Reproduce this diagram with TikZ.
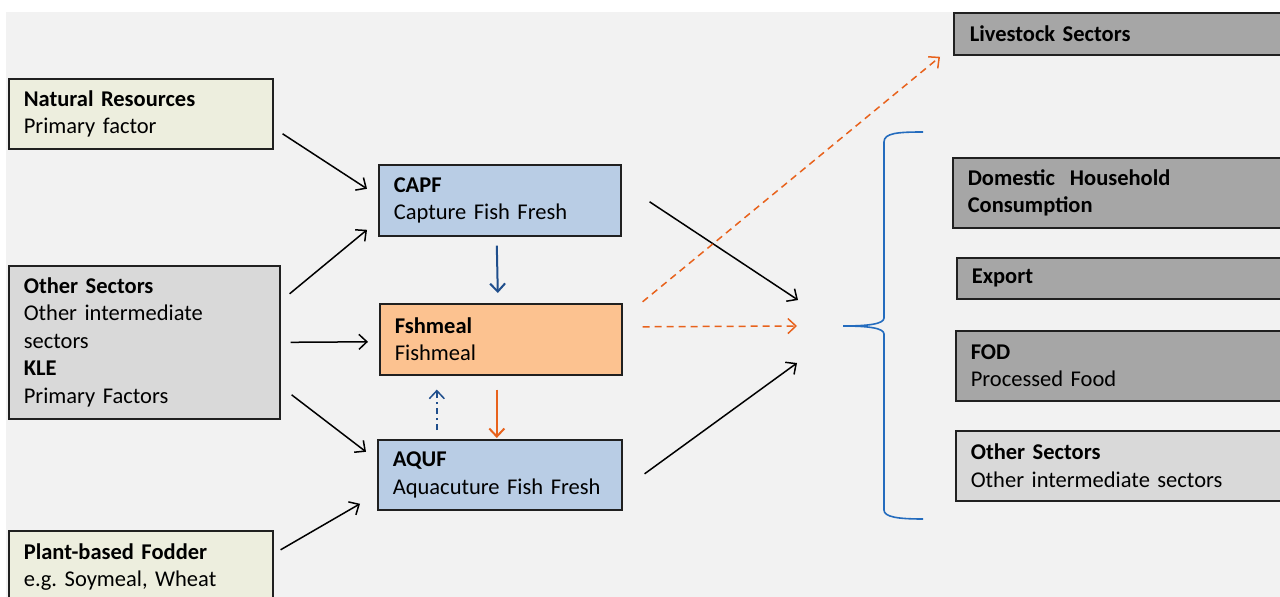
\documentclass[tikz,border=0pt]{standalone}
\usepackage{fontspec}
\setmainfont{Carlito}
\usetikzlibrary{arrows.meta,calc}
\definecolor{bg}{RGB}{242,242,242}
\definecolor{boxline}{RGB}{32,32,32}
\definecolor{beige}{RGB}{237,238,222}
\definecolor{lgray}{RGB}{217,217,217}
\definecolor{dgray}{RGB}{166,166,166}
\definecolor{lblue}{RGB}{185,205,229}
\definecolor{peach}{RGB}{252,194,144}
\definecolor{orng}{RGB}{232,98,28}
\definecolor{dblue}{RGB}{31,78,140}
\definecolor{brace}{RGB}{36,108,190}
\begin{document}
\begin{tikzpicture}[x=1pt,y=-1pt,
  font=\fontsize{22.5}{27.5}\selectfont,
  sbox/.style={draw=boxline, line width=1.6pt, anchor=north west, align=left,
    inner xsep=15pt, inner ysep=0pt},
  arr/.style={line width=1.5pt, -{Straight Barb[length=8pt,width=15pt]}}]
\useasboundingbox (0,0) rectangle (1280,597);
\fill[white] (0,0) rectangle (1280,597);
\fill[bg] (6,12) rectangle (1280,597);

% left inputs
\node[sbox, fill=beige, text width=234pt, minimum height=70pt] (nr) at (8,78)
  {\textbf{Natural Resources}\\Primary factor};
\node[sbox, fill=lgray, text width=241pt, minimum height=153pt] (os) at (8,265)
  {\textbf{Other Sectors}\\Other intermediate\\sectors\\\textbf{KLE}\\Primary Factors};
\node[sbox, fill=beige, text width=234pt, minimum height=72pt] (pf) at (8,530)
  {\textbf{Plant-based Fodder}\\e.g.\ Soymeal, Wheat};

% middle
\node[sbox, fill=lblue, text width=212pt, minimum height=71pt] (capf) at (378,164)
  {\textbf{CAPF}\\Capture Fish Fresh};
\node[sbox, fill=peach, text width=212pt, minimum height=71pt] (fm) at (379,303)
  {\textbf{Fshmeal}\\Fishmeal};
\node[sbox, fill=lblue, text width=214pt, minimum height=70pt] (aquf) at (377,439)
  {\textbf{AQUF}\\Aquacuture Fish Fresh};

% right outputs
\node[sbox, fill=dgray, text width=308pt, minimum height=42pt, inner xsep=16pt] (live) at (953,12)
  {\textbf{Livestock Sectors}};
\node[sbox, fill=dgray, text width=310pt, minimum height=70pt] (dom) at (952,157)
  {\textbf{Domestic\ \ Household}\\\textbf{Consumption}};
\node[sbox, fill=dgray, text width=306pt, minimum height=41pt] (exp) at (956,257)
  {\textbf{Export}};
\node[sbox, fill=dgray, text width=307pt, minimum height=70pt] (fod) at (955,330)
  {\textbf{FOD}\\Processed Food};
\node[sbox, fill=lgray, text width=307pt, minimum height=70pt] (ors) at (955,430)
  {\textbf{Other Sectors}\\Other intermediate sectors};

% hub
\coordinate (hub) at (797,326);

% input arrows
\draw[arr] ([shift={(9,20)}]nr.east) -- ([shift={(-11,-11.5)}]capf.west);
\draw[arr] ([shift={(9,-48.5)}]os.east) -- ([shift={(-11,29.5)}]capf.west);
\draw[arr] ([shift={(10,0)}]os.east) -- ([shift={(-11,2.5)}]fm.west);
\draw[arr] ([shift={(11,52.5)}]os.east) -- ([shift={(-11,-23)}]aquf.west);
\draw[arr] ([shift={(7,-17)}]pf.east) -- ([shift={(-17,29)}]aquf.west);

% vertical arrows
\draw[arr, draw=dblue, line width=2pt] ([shift={(-3,9)}]capf.south) -- ([shift={(-3,-10)}]fm.north);
\draw[arr, draw=orng, line width=2pt] ([shift={(-4,14)}]fm.south) -- ([shift={(-3,-1)}]aquf.north);
\draw[arr, draw=dblue, dash pattern=on 6pt off 4pt on 2pt off 4pt]
  ([shift={(-63,-9)}]aquf.north) -- ([shift={(-64,14)}]fm.south);

% output arrows
\draw[arr] ([shift={(28,1.5)}]capf.east) -- ([shift={(1,-26)}]hub);
\draw[arr, draw=orng, dash pattern=on 7pt off 5pt] ([shift={(20,-12.5)}]fm.east) -- (hub);
\draw[arr, draw=orng, dash pattern=on 7pt off 5pt] ([shift={(20,-37.5)}]fm.east) -- ([shift={(-13,23)}]live.west);
\draw[arr] ([shift={(22,-1)}]aquf.east) -- ([shift={(0,37)}]hub);

% brace
\draw[brace, line width=1.6pt]
  (923,132) .. controls (898,132) and (884,133) .. (884,142) -- (884,318)
  .. controls (884,324) and (868,326) .. (843,326)
  .. controls (868,326) and (884,328) .. (884,334) -- (884,510)
  .. controls (884,517) and (898,519) .. (923,519);
\end{tikzpicture}
\end{document}
